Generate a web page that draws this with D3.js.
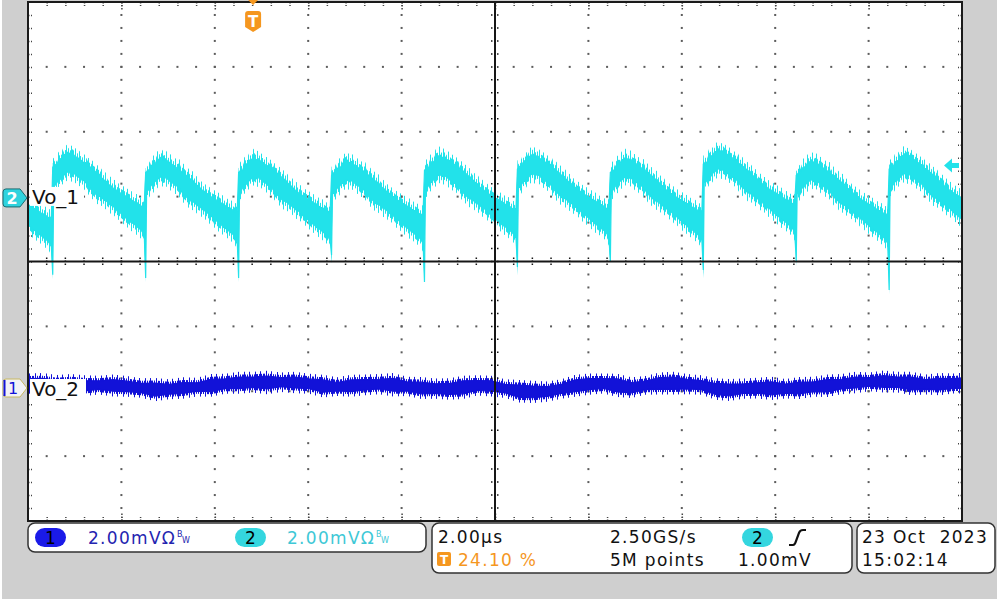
<!DOCTYPE html>
<html>
<head>
<meta charset="utf-8">
<script src="https://cdn.jsdelivr.net/npm/d3@7"></script>
<style>
body { margin: 0; background: #fff; }
svg { display: block; font-family: "DejaVu Sans", sans-serif; }
</style>
</head>
<body>
<svg id="scope" width="1000" height="603"></svg>
<script>
// scope settings
const timeDiv = 2;        // µs / div
const voltDiv = 2;        // mV / div
const triggerPos = 0.241; // 24.10 %
const trigLevel = 1.00;   // mV, on ch2
const ch2Ground = 3.02;   // divisions from top
const ch1Ground = 5.95;

// Vo_1 (ch2): spike instants (µs), top of each ramp (mV), bottom of each spike (mV)
const spikeT = [-6.28, -4.29, -2.30, -0.31, 1.68, 3.67, 5.66, 7.65, 9.64, 11.63, 13.62];
const peakV = [1.07, 1.42, 1.26, 1.26, 1.17, 1.33, 1.36, 1.26, 1.51, 1.17, 1.36];
const spikeMin = [-2.4, -2.37, -2.47, -2.47, -1.76, -2.59, -2.13, -1.97, -2.22, -1.97, -2.84];

// one ramp as it looks on screen: time after spike (µs), upper / lower edge of the band (mV)
const rampDt = [0.00, 0.02, 0.05, 0.08, 0.12, 0.16, 0.20, 0.24, 0.28, 0.33, 0.38, 0.43, 0.48, 0.53, 0.58,
  0.62, 0.67, 0.72, 0.76, 0.81, 0.86, 0.90, 0.95, 1.00, 1.05, 1.10, 1.15, 1.19, 1.24, 1.29, 1.33, 1.38,
  1.43, 1.48, 1.52, 1.57, 1.62, 1.67, 1.72, 1.76, 1.81, 1.86, 1.91, 1.96];
const rampHi = [0.80, 0.82, 0.88, 0.84, 1.00, 1.06, 1.05, 1.18, 1.20, 1.27, 1.18, 1.22, 1.12, 1.10, 1.02,
  1.00, 0.92, 0.95, 0.82, 0.80, 0.72, 0.68, 0.60, 0.58, 0.47, 0.40, 0.36, 0.26, 0.24, 0.15, 0.14, 0.06,
  0.02, -0.02, -0.06, -0.10, -0.15, -0.18, -0.25, -0.28, -0.30, -0.36, -0.42, -0.38];
const rampLo = [null, 0.22, 0.24, 0.30, 0.40, 0.42, 0.52, 0.55, 0.62, 0.66, 0.60, 0.63, 0.58, 0.50, 0.47,
  0.40, 0.38, 0.30, 0.22, 0.12, 0.06, 0.00, -0.08, -0.10, -0.14, -0.22, -0.25, -0.30, -0.38, -0.40, -0.46,
  -0.55, -0.58, -0.66, -0.70, -0.78, -0.82, -0.90, -0.94, -0.98, -1.05, -1.10, -1.18, -1.30];

// Vo_2 (ch1): centre of the band and its half width (mV)
const vo2T = [-4.82, -4.5, -4.2, -3.9, -3.6, -3.3, -3.0, -2.7, -2.4, -2.1, -1.8, -1.5, -1.2, -0.9, -0.6, -0.3,
  0, 0.3, 0.6, 0.9, 1.2, 1.5, 1.8, 2.1, 2.4, 2.7, 3.0, 3.3, 3.6, 3.9, 4.2, 4.5, 4.8, 5.1, 5.4, 5.7, 6.0,
  6.3, 6.6, 6.9, 7.2, 7.5, 7.8, 8.1, 8.4, 8.7, 9.0, 9.3, 9.6, 9.9, 10.2, 10.5, 10.8, 11.1, 11.4, 11.7,
  12.0, 12.3, 12.6, 12.9, 13.2, 13.5, 13.8, 14.1, 14.4, 14.7, 15.0, 15.18];
const vo2Mid = [0.14, 0.12, 0.10, 0.08, 0.07, 0.09, 0.08, 0.05, 0.00, -0.05, -0.04, 0.00, 0.03, 0.08, 0.13, 0.16,
  0.18, 0.17, 0.18, 0.17, 0.13, 0.06, 0.04, 0.07, 0.10, 0.12, 0.10, 0.05, 0.00, -0.02, -0.03, 0.02, 0.08,
  0.06, -0.02, -0.10, -0.12, -0.11, -0.03, 0.07, 0.12, 0.14, 0.08, 0.01, 0.08, 0.14, 0.15, 0.12, 0.09,
  -0.03, -0.06, -0.02, 0.00, -0.01, -0.02, 0.00, 0.04, 0.07, 0.12, 0.17, 0.19, 0.20, 0.18, 0.14, 0.11,
  0.12, 0.14, 0.15];
const vo2Half = [0.15, 0.18, 0.14, 0.19, 0.16, 0.13, 0.18, 0.16, 0.14, 0.20, 0.15, 0.17, 0.13, 0.19, 0.15, 0.18,
  0.16, 0.20, 0.14, 0.17, 0.15, 0.19, 0.13, 0.18, 0.16, 0.15, 0.20, 0.14, 0.18, 0.15, 0.17, 0.20, 0.15,
  0.16, 0.13, 0.19, 0.18, 0.15, 0.14, 0.18, 0.17, 0.15, 0.20, 0.16, 0.13, 0.18, 0.19, 0.15, 0.14, 0.17,
  0.18, 0.15, 0.16, 0.20, 0.14, 0.18, 0.15, 0.19, 0.15, 0.17, 0.13, 0.18, 0.16, 0.20, 0.15, 0.18, 0.15, 0.16];

const cyan = "#22e2ea", blue = "#1212d8", orange = "#f5971f", ink = "#111";

const svg = d3.select("#scope");
const plot = { x0: 28, x1: 962, y0: 2, y1: 521 };

const xd = d3.scaleLinear().domain([0, 10]).range([plot.x0, plot.x1]);
const yd = d3.scaleLinear().domain([0, 8]).range([plot.y0, plot.y1]);
const x = d3.scaleLinear()
  .domain([-triggerPos * 10 * timeDiv, (1 - triggerPos) * 10 * timeDiv])
  .range([plot.x0, plot.x1]);
const y2 = d3.scaleLinear().domain([ch2Ground * voltDiv, (ch2Ground - 8) * voltDiv]).range([plot.y0, plot.y1]);
const y1 = d3.scaleLinear().domain([ch1Ground * voltDiv, (ch1Ground - 8) * voltDiv]).range([plot.y0, plot.y1]);

// background
svg.append("rect").attr("x", 2).attr("y", 0).attr("width", 995).attr("height", 599).attr("fill", "#cfcfcf");
svg.append("rect").attr("x", plot.x0).attr("y", plot.y0)
  .attr("width", plot.x1 - plot.x0).attr("height", plot.y1 - plot.y0).attr("fill", "#fff");

// hair patterns used for the noisy fringe of each trace
const defs = svg.append("defs");
function hairs(id, color, w, xs) {
  const p = defs.append("pattern").attr("id", id).attr("patternUnits", "userSpaceOnUse")
    .attr("width", w).attr("height", 6);
  xs.forEach(v => p.append("rect").attr("x", v).attr("y", 0).attr("width", 1).attr("height", 6).attr("fill", color));
}
hairs("cDense", cyan, 7, [0, 2, 3, 5]);
hairs("cSparse", cyan, 13, [1, 6, 10]);
hairs("bDense", blue, 7, [0, 2, 4, 5]);
hairs("bSparse", blue, 11, [2, 7]);

// dotted graticule
const dots = svg.append("g").attr("fill", "#5c5c5c");
d3.range(1, 10).filter(i => i !== 5).forEach(i => {
  d3.range(1, 40).forEach(j => {
    dots.append("rect").attr("x", xd(i) - 1).attr("y", yd(j / 5) - 1).attr("width", 2).attr("height", 2);
  });
});
d3.range(1, 8).filter(j => j !== 4).forEach(j => {
  d3.range(1, 50).forEach(i => {
    dots.append("rect").attr("x", xd(i / 5) - 1).attr("y", yd(j) - 1).attr("width", 2).attr("height", 2);
  });
});

// edge ticks with axes
const minorX = d3.range(1, 50).map(i => i / 5);
const minorY = d3.range(1, 40).map(j => j / 5);
function edge(axis, tr) {
  const g = svg.append("g").attr("transform", tr).call(axis);
  g.select(".domain").remove();
  g.selectAll("line").attr("stroke", "#444").attr("stroke-dasharray", "1.5,1.5")
    .attr("stroke-width", 1.5);
  return g;
}
edge(d3.axisTop(xd).tickValues(minorX).tickSize(-4).tickFormat(""), `translate(0,${plot.y0})`);
edge(d3.axisBottom(xd).tickValues(minorX).tickSize(-4).tickFormat(""), `translate(0,${plot.y1})`);
edge(d3.axisLeft(yd).tickValues(minorY).tickSize(-4).tickFormat(""), `translate(${plot.x0},0)`);
edge(d3.axisRight(yd).tickValues(minorY).tickSize(-4).tickFormat(""), `translate(${plot.x1},0)`);
edge(d3.axisBottom(xd).tickValues(d3.range(1, 10)).tickSize(-9).tickFormat(""), `translate(0,${plot.y1})`);
edge(d3.axisTop(xd).tickValues(d3.range(1, 10)).tickSize(-9).tickFormat(""), `translate(0,${plot.y0})`);

// traces
svg.append("clipPath").attr("id", "clip").append("rect")
  .attr("x", plot.x0).attr("y", plot.y0).attr("width", plot.x1 - plot.x0).attr("height", plot.y1 - plot.y0);

const vo1 = [];
spikeT.forEach((ts, k) => {
  const off = peakV[k] - 1.27;
  rampDt.forEach((dt, m) => {
    vo1.push({
      t: ts + dt,
      hi: rampHi[m] + off,
      lo: m === 0 ? spikeMin[k] : rampLo[m] + off
    });
  });
});
const vo2 = vo2T.map((t, i) => ({ t: t, hi: vo2Mid[i] + vo2Half[i], lo: vo2Mid[i] - vo2Half[i] }));

const traces = svg.append("g").attr("clip-path", "url(#clip)");
function band(data, ys, grow, fill) {
  traces.append("path").datum(data)
    .attr("d", d3.area().x(d => x(d.t)).y0(d => ys(d.lo - grow)).y1(d => ys(d.hi + grow)))
    .attr("fill", fill);
}
band(vo1, y2, 0.26, "url(#cSparse)");
band(vo1, y2, 0.13, "url(#cDense)");
traces.append("path").datum(vo1)
  .attr("d", d3.area().x(d => x(d.t)).y0(d => y2(d.lo)).y1(d => y2(d.hi)))
  .attr("fill", cyan).attr("stroke", cyan).attr("stroke-width", 1.2);
band(vo2, y1, 0.16, "url(#bSparse)");
band(vo2, y1, 0.08, "url(#bDense)");
traces.append("path").datum(vo2)
  .attr("d", d3.area().x(d => x(d.t)).y0(d => y1(d.lo)).y1(d => y1(d.hi)))
  .attr("fill", blue).attr("stroke", blue).attr("stroke-width", 1.2);

// centre cross with ticks
const cx = xd(5), cy = yd(4);
const cross = svg.append("g").attr("stroke", "#161616");
cross.append("line").attr("x1", cx).attr("x2", cx).attr("y1", plot.y0).attr("y2", plot.y1).attr("stroke-width", 2);
cross.append("line").attr("x1", plot.x0).attr("x2", plot.x1).attr("y1", cy).attr("y2", cy).attr("stroke-width", 2);
minorY.forEach(v => cross.append("line").attr("x1", cx - 4).attr("x2", cx + 4)
  .attr("y1", yd(v)).attr("y2", yd(v)).attr("stroke-width", 1.5).attr("stroke-dasharray", "1.5,1.5"));
minorX.forEach(v => cross.append("line").attr("y1", cy - 4).attr("y2", cy + 4)
  .attr("x1", xd(v)).attr("x2", xd(v)).attr("stroke-width", 1.5).attr("stroke-dasharray", "1.5,1.5"));

// frame
svg.append("rect").attr("x", plot.x0).attr("y", plot.y0)
  .attr("width", plot.x1 - plot.x0).attr("height", plot.y1 - plot.y0)
  .attr("fill", "none").attr("stroke", "#1a1a1a").attr("stroke-width", 2);

// channel labels
const g2 = y2(0), g1 = y1(0);
svg.append("rect").attr("x", 30).attr("y", g2 - 11).attr("width", 54).attr("height", 19).attr("fill", "#fff");
svg.append("text").attr("x", 32).attr("y", g2 + 6).attr("font-size", 20).attr("fill", ink).text("Vo_1");
svg.append("rect").attr("x", 30).attr("y", g1 - 9).attr("width", 56).attr("height", 19).attr("fill", "#fff");
svg.append("text").attr("x", 32).attr("y", g1 + 8).attr("font-size", 20).attr("fill", ink).text("Vo_2");

function marker(gy, fill, stroke) {
  return svg.append("path")
    .attr("d", `M6,${gy - 9} L20,${gy - 9} L27,${gy} L20,${gy + 9} L6,${gy + 9} Q3,${gy + 9} 3,${gy + 6} L3,${gy - 6} Q3,${gy - 9} 6,${gy - 9} Z`)
    .attr("fill", fill).attr("stroke", stroke).attr("stroke-width", 1);
}
marker(g2, "#2fd3de", "#1a6a70");
svg.append("text").attr("x", 12).attr("y", g2 + 6).attr("text-anchor", "middle")
  .attr("font-size", 16).attr("font-weight", "bold").attr("fill", "#fff").text("2");
marker(g1, "#f2f2f6", "#c8b860");
svg.append("line").attr("x1", 4.5).attr("x2", 4.5).attr("y1", g1 - 8).attr("y2", g1 + 8)
  .attr("stroke", blue).attr("stroke-width", 2);
svg.append("text").attr("x", 13).attr("y", g1 + 6).attr("text-anchor", "middle")
  .attr("font-size", 16).attr("fill", blue).text("1");

// trigger position marker
const tx = x(0);
svg.append("path").attr("d", `M${tx - 5},0 L${tx + 5},0 L${tx},5 Z`).attr("fill", orange);
svg.append("path")
  .attr("d", `M${tx - 8},14 Q${tx - 8},11 ${tx - 5},11 L${tx + 5},11 Q${tx + 8},11 ${tx + 8},14 L${tx + 8},27 L${tx},32 L${tx - 8},27 Z`)
  .attr("fill", orange);
svg.append("text").attr("x", tx).attr("y", 27).attr("text-anchor", "middle")
  .attr("font-size", 15).attr("font-weight", "bold").attr("fill", "#fff").text("T");

// trigger level arrow
const ty = y2(trigLevel);
svg.append("path")
  .attr("d", `M944,${ty} L952,${ty - 7} L952,${ty - 2.5} L959,${ty - 2.5} L959,${ty + 2.5} L952,${ty + 2.5} L952,${ty + 7} Z`)
  .attr("fill", cyan);

// readout panels
const panels = [
  { x: 28, y: 523, w: 398, h: 29 },
  { x: 432, y: 523, w: 420, h: 50 },
  { x: 857, y: 523, w: 138, h: 50 }
];
svg.selectAll("rect.panel").data(panels).enter().append("rect").attr("class", "panel")
  .attr("x", d => d.x).attr("y", d => d.y).attr("width", d => d.w).attr("height", d => d.h)
  .attr("rx", 7).attr("fill", "#fff").attr("stroke", "#333").attr("stroke-width", 1.5);

function pill(px, py, fill, label) {
  svg.append("rect").attr("x", px).attr("y", py).attr("width", 31).attr("height", 19).attr("rx", 9.5)
    .attr("fill", fill);
  svg.append("text").attr("x", px + 15.5).attr("y", py + 16).attr("text-anchor", "middle")
    .attr("font-size", 17).attr("fill", "#000").text(label);
}
function readout(tx0, ty0, txt, color) {
  return svg.append("text").attr("x", tx0).attr("y", ty0).attr("font-size", 17)
    .attr("letter-spacing", 1.3).attr("fill", color).style("white-space", "pre").text(txt);
}
function bw(bx, color) {
  svg.append("text").attr("x", bx).attr("y", 537).attr("font-size", 8).attr("fill", color).text("B");
  svg.append("text").attr("x", bx + 5).attr("y", 543).attr("font-size", 8).attr("fill", color).text("W");
}

pill(35, 528, "#1a1ae8", "1");
readout(88, 544, "2.00mVΩ", "#2424b0");
bw(177, "#2424b0");
pill(235, 528, "#34d6df", "2");
readout(287, 544, "2.00mVΩ", "#3ec8d6");
bw(376, "#3ec8d6");

readout(438, 543, "2.00µs", ink);
svg.append("rect").attr("x", 437).attr("y", 552).attr("width", 14).attr("height", 14).attr("rx", 2).attr("fill", orange);
svg.append("text").attr("x", 444).attr("y", 564).attr("text-anchor", "middle").attr("font-size", 12)
  .attr("font-weight", "bold").attr("fill", "#fff").text("T");
readout(458, 566, "24.10 %", orange);
readout(610, 543, "2.50GS/s", ink);
readout(610, 566, "5M points", ink);
pill(742, 528, "#34d6df", "2");
svg.append("path").attr("d", "M789,545 L793,545 Q795,545 796,541 L799,533 Q800,530 803,530 L806,530")
  .attr("fill", "none").attr("stroke", ink).attr("stroke-width", 2.2);
readout(738, 566, "1.00mV", ink);

readout(862, 543, "23 Oct  2023", ink);
readout(862, 566, "15:02:14", ink);
</script>
</body>
</html>
